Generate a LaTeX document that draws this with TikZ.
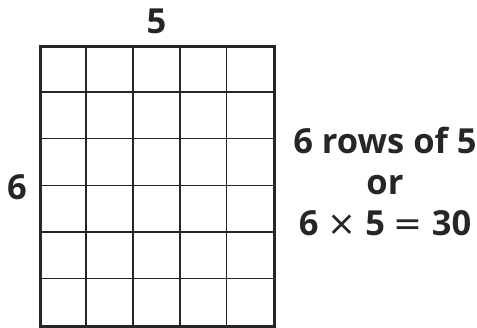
\documentclass[tikz,border=0pt]{standalone}
\usepackage{fontspec}
\setmainfont{Open Sans}
\newfontfamily\symfont{DejaVu Sans}
\begin{document}
\begin{tikzpicture}[x=1pt,y=-1pt,
  lbl/.style={font=\fontsize{34.5}{41}\selectfont\bfseries, text=black!85, inner sep=0pt},
  inner/.style={line width=1.6pt, black!85},
  outer/.style={line width=3pt, black!85}]
\useasboundingbox (0,0) rectangle (477,327);
\def\cw{46.8}
\def\rh{46.67}
\coordinate (g0) at (39.3,45.3);
\foreach \i in {1,...,4} \draw[inner] (39.3+\i*\cw,45.3) -- (39.3+\i*\cw,325.3);
\foreach \j in {1,...,5} \draw[inner] (39.3,45.3+\j*\rh) -- (273.3,45.3+\j*\rh);
\node[draw, outer, minimum width=234pt, minimum height=280pt, anchor=north west, inner sep=0pt] (grid) at (g0) {};
\node[lbl] (top) at (156.5,21) {5};
\node[lbl] (left) at (17,187) {6};
\node[lbl, align=center] (txt) at (385,181) {6 rows of 5\\or\\6 {\symfont\mdseries ×} 5 {\symfont\mdseries =} 30};
\end{tikzpicture}
\end{document}
